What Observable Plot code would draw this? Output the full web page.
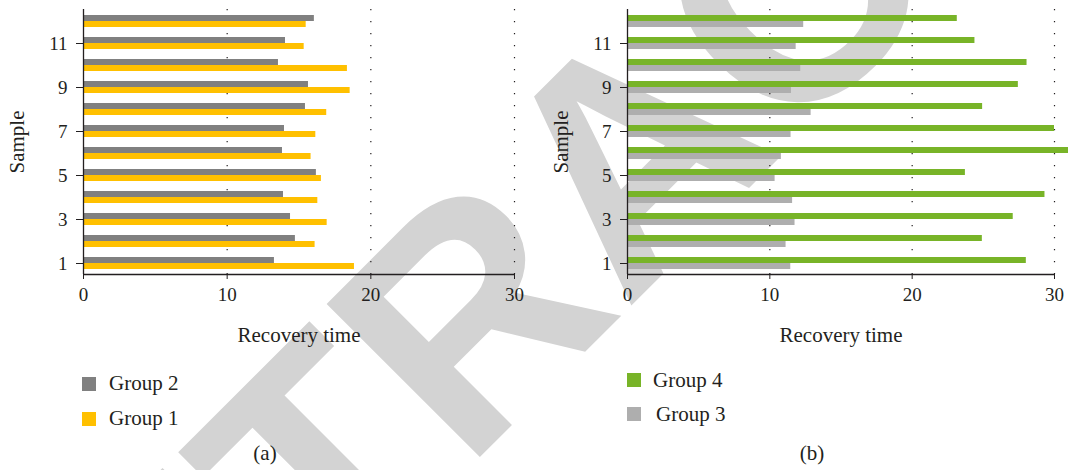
<!DOCTYPE html>
<html>
<head>
<meta charset="utf-8">
<script src="https://cdn.jsdelivr.net/npm/d3@7"></script>
<script src="https://cdn.jsdelivr.net/npm/@observablehq/plot@0.6"></script>
<style>
  html, body { margin: 0; padding: 0; background: #fff; }
  #root { position: relative; width: 1068px; height: 470px; overflow: hidden; background: #fff;
          font-family: 'Liberation Serif', serif; color: #231f20; }
  #wm { position: absolute; left: 0; top: 0; z-index: 0; }
  .panel { position: absolute; top: 0; z-index: 1; }
  .panel [aria-label$="axis label"] { font-size: 21px; }
  .legend { position: absolute; z-index: 1; font-size: 21px; }
  .legend .row { position: absolute; white-space: nowrap; display: flex; align-items: center; }
  .legend .sw { width: 14px; height: 14px; display: inline-block; }
  .cap { position: absolute; z-index: 1; font-size: 21px; transform: translate(-50%, -50%); }
</style>
</head>
<body>
<div id="root"></div>
<script>
// ---- data ----
const samples = [1, 2, 3, 4, 5, 6, 7, 8, 9, 10, 11, 12];
const sampleTicks = [1, 3, 5, 7, 9, 11];
const xTicks = [0, 10, 20, 30];
const group1 = [18.86, 16.12, 16.96, 16.31, 16.56, 15.84, 16.17, 16.93, 18.56, 18.37, 15.36, 15.50];
const group2 = [13.29, 14.75, 14.41, 13.92, 16.21, 13.85, 13.99, 15.45, 15.66, 13.57, 14.06, 16.07];
const group3 = [11.47, 11.14, 11.77, 11.60, 10.37, 10.81, 11.49, 12.90, 11.52, 12.17, 11.85, 12.38];
const group4 = [28.02, 24.93, 27.10, 29.33, 23.74, 31.20, 30.00, 24.95, 27.46, 28.07, 24.41, 23.17];
const seriesNames = ["Group 1", "Group 2", "Group 3", "Group 4"];
const seriesColors = ["#FFC000", "#808080", "#AEAEAE", "#78B428"];
const panelLabels = ["(a)", "(b)"];
const watermark = "RETRACTED";

const root = document.getElementById("root");
const font = "'Liberation Serif', serif";
const ink = "#231f20";

// ---- watermark (behind the chart) ----
const NS = "http://www.w3.org/2000/svg";
const wm = document.createElementNS(NS, "svg");
wm.setAttribute("id", "wm");
wm.setAttribute("width", 1068);
wm.setAttribute("height", 470);
const wt = document.createElementNS(NS, "text");
wt.setAttribute("transform", "translate(19.5,917.5) rotate(-45)");
wt.setAttribute("font-family", "'Liberation Sans', Arial, sans-serif");
wt.setAttribute("font-weight", "bold");
wt.setAttribute("font-size", 315);
wt.setAttribute("fill", "#d3d3d3");
wt.textContent = watermark;
wm.appendChild(wt);
root.appendChild(wm);

function panel(topName, topVals, topColor, botName, botVals, botColor, opts) {
  const rows = samples.map((s, i) => ({sample: s, top: topVals[i], bot: botVals[i], topName, botName}));
  return Plot.plot({
    width: opts.width,
    height: 350,
    marginLeft: opts.marginLeft,
    marginRight: opts.marginRight,
    marginTop: 9,
    marginBottom: 76,
    style: {background: "transparent", fontFamily: font, fontSize: "19px", color: ink, overflow: "visible"},
    x: {domain: [0, 30], ticks: xTicks, tickSize: 5, tickPadding: 8,
        label: "Recovery time", labelAnchor: "center", labelOffset: 67, labelArrow: "none"},
    y: {type: "band", domain: samples.slice().reverse(), padding: 0, ticks: sampleTicks,
        tickSize: 7, tickPadding: 9, label: "Sample", labelAnchor: "center", labelOffset: 74, labelArrow: "none"},
    marks: [
      Plot.ruleX(xTicks.filter(d => d > 0), {stroke: ink, strokeDasharray: "1.2,10.8", strokeWidth: 1.2}),
      Plot.barX(rows, {x: "top", y: "sample", fill: topColor, insetTop: 5, insetBottom: 11}),
      Plot.barX(rows, {x: "bot", y: "sample", fill: botColor, insetTop: 11, insetBottom: 5}),
      Plot.ruleX([0], {stroke: ink, strokeWidth: 1.3}),
      Plot.ruleY([1], {stroke: ink, strokeWidth: 1.3, dy: 11})
    ]
  });
}

const left = panel("Group 2", group2, seriesColors[1], "Group 1", group1, seriesColors[0],
                   {width: 540, marginLeft: 83, marginRight: 26});
left.classList.add("panel");
left.style.left = "0px";
root.appendChild(left);

const right = panel("Group 4", group4, seriesColors[3], "Group 3", group3, seriesColors[2],
                    {width: 528, marginLeft: 87, marginRight: 14});
right.classList.add("panel");
right.style.left = "540px";
root.appendChild(right);

// ---- legends ----
function legend(items, x, ys, textX) {
  const div = document.createElement("div");
  div.className = "legend";
  div.style.left = "0px";
  div.style.top = "0px";
  items.forEach((it, k) => {
    const row = document.createElement("div");
    row.className = "row";
    row.style.left = x + "px";
    row.style.top = (ys[k] - 14) + "px";
    row.style.height = "28px";
    const sw = document.createElement("span");
    sw.className = "sw";
    sw.style.background = it.color;
    const tx = document.createElement("span");
    tx.textContent = it.name;
    tx.style.marginLeft = (textX[k] - x - 14) + "px";
    row.appendChild(sw);
    row.appendChild(tx);
    div.appendChild(row);
  });
  root.appendChild(div);
}
legend([{name: seriesNames[1], color: seriesColors[1]}, {name: seriesNames[0], color: seriesColors[0]}],
       82, [383.5, 418.5], [109, 109]);
legend([{name: seriesNames[3], color: seriesColors[3]}, {name: seriesNames[2], color: seriesColors[2]}],
       627, [380, 414], [653, 656]);

// ---- panel captions ----
[[panelLabels[0], 265, 453], [panelLabels[1], 812, 453]].forEach(([t, x, y]) => {
  const c = document.createElement("div");
  c.className = "cap";
  c.style.left = x + "px";
  c.style.top = y + "px";
  c.textContent = t;
  root.appendChild(c);
});
</script>
</body>
</html>
